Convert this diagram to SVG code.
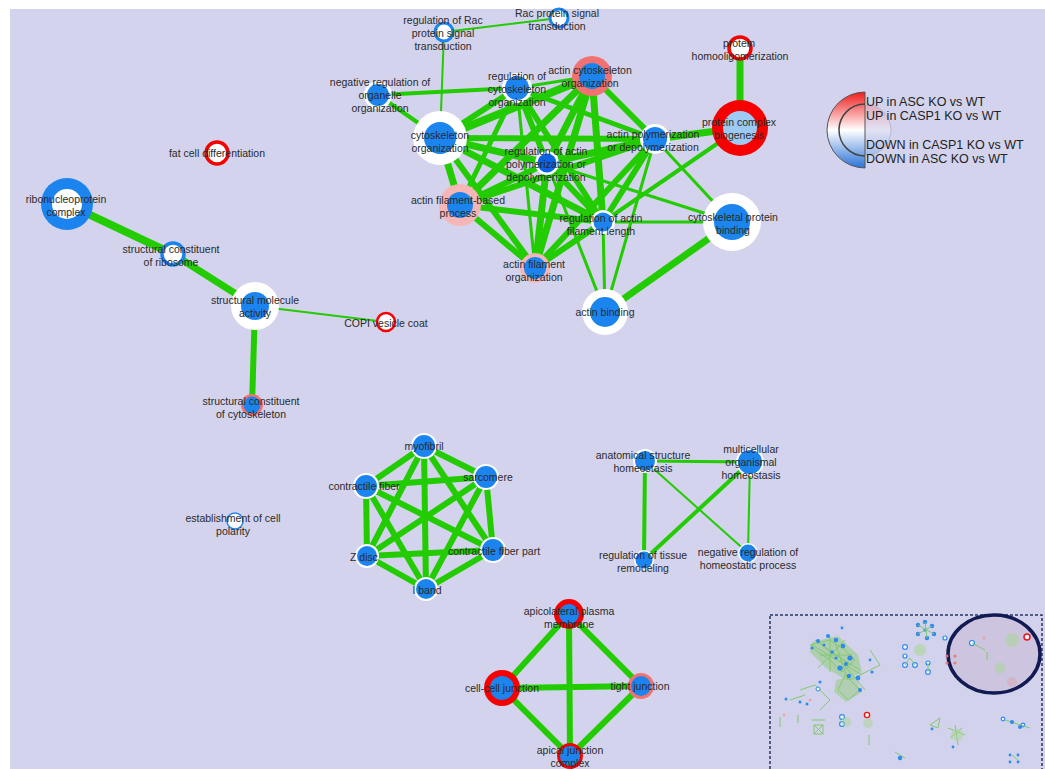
<svg xmlns="http://www.w3.org/2000/svg" width="1045" height="769" viewBox="0 0 1045 769">
  <defs>
    <style>
      .bg { fill: #d3d3ed; }
      .e { stroke: #22cc00; stroke-linecap: butt; fill: none; }
      .w2 { stroke-width: 2; }
      .w3 { stroke-width: 3; }
      .w4 { stroke-width: 4; }
      .w5 { stroke-width: 5; }
      .w6 { stroke-width: 6; }
      .w7 { stroke-width: 7; }
      .w8 { stroke-width: 8; }
      .lbl { font-family: "Liberation Sans", Arial, sans-serif; font-size: 10.5px; fill: #2a2a2a; text-anchor: middle; }
      .leg { font-family: "Liberation Sans", Arial, sans-serif; font-size: 12.5px; fill: #222; }
      .white { fill: #ffffff; }
      .blue { fill: #1c84ee; }
      .dblue { fill: #0b62e4; }
      .lblue { fill: #9ccaf4; }
      .red { fill: #f60000; }
      .salmon { fill: #f27272; }
      .pink { fill: #f6b6b6; }
      .mini-e { stroke: #7cc866; stroke-width: 1; fill: none; }
    </style>
    <linearGradient id="legGrad" x1="0" y1="0" x2="0" y2="1">
      <stop offset="0" stop-color="#f01c1c"/>
      <stop offset="0.5" stop-color="#ffffff"/>
      <stop offset="1" stop-color="#2a72d6"/>
    </linearGradient>
    <linearGradient id="legGradIn" x1="0" y1="0" x2="0" y2="1">
      <stop offset="0" stop-color="#f25a5a"/>
      <stop offset="0.5" stop-color="#ffffff"/>
      <stop offset="1" stop-color="#4a86da"/>
    </linearGradient>
  </defs>

  <!-- canvas -->
  <rect x="0" y="0" width="1045" height="769" fill="#ffffff"/>
  <rect class="bg" x="10" y="9" width="1035" height="760"/>

  <!-- connectors -->
  <g id="edges">
    <!-- cytoskeleton cluster -->
    <line class="e w2" x1="444" y1="32" x2="559" y2="18"/>
    <line class="e w2" x1="444" y1="32" x2="440" y2="138"/>
    <line class="e w7" x1="740" y1="48" x2="740" y2="128"/>
    <line class="e w4" x1="378" y1="95" x2="517" y2="88"/>
    <line class="e w4" x1="378" y1="95" x2="440" y2="138"/>
    <line class="e w3" x1="517" y1="88" x2="592" y2="76"/>
    <line class="e w6" x1="440" y1="138" x2="517" y2="88"/>
    <line class="e w8" x1="440" y1="138" x2="592" y2="76"/>
    <line class="e w6" x1="440" y1="138" x2="655" y2="139"/>
    <line class="e w7" x1="440" y1="138" x2="547" y2="163"/>
    <line class="e w7" x1="440" y1="138" x2="460" y2="205"/>
    <line class="e w7" x1="440" y1="138" x2="603" y2="222"/>
    <line class="e w6" x1="440" y1="138" x2="535" y2="268"/>
    <line class="e w6" x1="592" y1="76" x2="655" y2="139"/>
    <line class="e w7" x1="592" y1="76" x2="547" y2="163"/>
    <line class="e w7" x1="592" y1="76" x2="460" y2="205"/>
    <line class="e w7" x1="592" y1="76" x2="603" y2="222"/>
    <line class="e w7" x1="592" y1="76" x2="535" y2="268"/>
    <line class="e w6" x1="517" y1="88" x2="547" y2="163"/>
    <line class="e w5" x1="517" y1="88" x2="655" y2="139"/>
    <line class="e w5" x1="517" y1="88" x2="460" y2="205"/>
    <line class="e w6" x1="517" y1="88" x2="603" y2="222"/>
    <line class="e w3" x1="517" y1="88" x2="535" y2="268"/>
    <line class="e w7" x1="655" y1="139" x2="547" y2="163"/>
    <line class="e w6" x1="655" y1="139" x2="460" y2="205"/>
    <line class="e w6" x1="655" y1="139" x2="603" y2="222"/>
    <line class="e w6" x1="655" y1="139" x2="535" y2="268"/>
    <line class="e w3" x1="655" y1="139" x2="605" y2="312"/>
    <line class="e w3" x1="655" y1="139" x2="732" y2="222"/>
    <line class="e w7" x1="655" y1="139" x2="740" y2="128"/>
    <line class="e w4" x1="740" y1="128" x2="603" y2="222"/>
    <line class="e w6" x1="547" y1="163" x2="460" y2="205"/>
    <line class="e w6" x1="547" y1="163" x2="603" y2="222"/>
    <line class="e w7" x1="547" y1="163" x2="535" y2="268"/>
    <line class="e w3" x1="547" y1="163" x2="605" y2="312"/>
    <line class="e w3" x1="547" y1="163" x2="732" y2="222"/>
    <line class="e w6" x1="460" y1="205" x2="603" y2="222"/>
    <line class="e w6" x1="460" y1="205" x2="535" y2="268"/>
    <line class="e w6" x1="603" y1="222" x2="535" y2="268"/>
    <line class="e w3" x1="603" y1="222" x2="605" y2="312"/>
    <line class="e w3" x1="603" y1="222" x2="732" y2="222"/>
    <line class="e w7" x1="605" y1="312" x2="732" y2="222"/>

    <!-- structural molecule cluster -->
    <line class="e w8" x1="67" y1="204" x2="173" y2="254"/>
    <line class="e w7" x1="173" y1="254" x2="255" y2="306"/>
    <line class="e w2" x1="255" y1="306" x2="386" y2="322"/>
    <line class="e w6" x1="255" y1="306" x2="252" y2="405"/>

    <!-- myofibril cluster -->
    <line class="e w6" x1="424" y1="446" x2="486" y2="477"/>
    <line class="e w6" x1="424" y1="446" x2="366" y2="486"/>
    <line class="e w6" x1="424" y1="446" x2="367" y2="556"/>
    <line class="e w6" x1="424" y1="446" x2="493" y2="550"/>
    <line class="e w6" x1="424" y1="446" x2="426" y2="589"/>
    <line class="e w6" x1="486" y1="477" x2="366" y2="486"/>
    <line class="e w6" x1="486" y1="477" x2="367" y2="556"/>
    <line class="e w6" x1="486" y1="477" x2="493" y2="550"/>
    <line class="e w6" x1="486" y1="477" x2="426" y2="589"/>
    <line class="e w6" x1="366" y1="486" x2="367" y2="556"/>
    <line class="e w6" x1="366" y1="486" x2="493" y2="550"/>
    <line class="e w6" x1="366" y1="486" x2="426" y2="589"/>
    <line class="e w6" x1="367" y1="556" x2="493" y2="550"/>
    <line class="e w6" x1="367" y1="556" x2="426" y2="589"/>
    <line class="e w6" x1="493" y1="550" x2="426" y2="589"/>

    <!-- homeostasis cluster -->
    <line class="e w3" x1="645" y1="461" x2="750" y2="462"/>
    <line class="e w4" x1="645" y1="461" x2="644" y2="560"/>
    <line class="e w4" x1="750" y1="462" x2="644" y2="560"/>
    <line class="e w2" x1="645" y1="461" x2="748" y2="553"/>
    <line class="e w2" x1="750" y1="462" x2="748" y2="553"/>

    <!-- junction cluster -->
    <line class="e w6" x1="569" y1="614" x2="502" y2="688"/>
    <line class="e w6" x1="569" y1="614" x2="641" y2="686"/>
    <line class="e w6" x1="569" y1="614" x2="570" y2="756"/>
    <line class="e w6" x1="502" y1="688" x2="641" y2="686"/>
    <line class="e w6" x1="502" y1="688" x2="570" y2="756"/>
    <line class="e w6" x1="641" y1="686" x2="570" y2="756"/>
  </g>

  <!-- cytoskeleton cluster nodes -->
  <g id="n-reg-rac">
    <circle cx="444" cy="32" r="9" fill="#ffffff" stroke="#1c84ee" stroke-width="3"/>
    <text class="lbl" x="443" y="24">regulation of Rac</text>
    <text class="lbl" x="443" y="37">protein signal</text>
    <text class="lbl" x="443" y="50">transduction</text>
  </g>
  <g id="n-rac">
    <circle cx="559" cy="18" r="9" fill="#ffffff" stroke="#1c84ee" stroke-width="3"/>
    <text class="lbl" x="557" y="17">Rac protein signal</text>
    <text class="lbl" x="557" y="30">transduction</text>
  </g>
  <g id="n-prot-homo">
    <circle cx="740" cy="48" r="11" fill="#ffffff" stroke="#f60000" stroke-width="3.5"/>
    <text class="lbl" x="739" y="47">protein</text>
    <text class="lbl" x="740" y="60">homooligomerization</text>
  </g>
  <g id="n-prot-complex">
    <circle class="red" cx="740" cy="128" r="28"/>
    <circle class="lblue" cx="740" cy="128" r="17"/>
    <text class="lbl" x="739" y="126">protein complex</text>
    <text class="lbl" x="739" y="139">biogenesis</text>
  </g>
  <g id="n-neg-reg-organelle">
    <circle class="white" cx="378" cy="95" r="14"/>
    <circle class="blue" cx="378" cy="95" r="11"/>
    <text class="lbl" x="380" y="86">negative regulation of</text>
    <text class="lbl" x="380" y="99">organelle</text>
    <text class="lbl" x="380" y="112">organization</text>
  </g>
  <g id="n-reg-cyto">
    <circle class="white" cx="517" cy="88" r="15"/>
    <circle class="blue" cx="517" cy="88" r="12"/>
    <text class="lbl" x="517" y="80">regulation of</text>
    <text class="lbl" x="517" y="93">cytoskeleton</text>
    <text class="lbl" x="517" y="106">organization</text>
  </g>
  <g id="n-actin-cyto">
    <circle class="salmon" cx="592" cy="76" r="20"/>
    <circle class="blue" cx="592" cy="76" r="13"/>
    <text class="lbl" x="590" y="74">actin cytoskeleton</text>
    <text class="lbl" x="590" y="87">organization</text>
  </g>
  <g id="n-cyto-org">
    <circle class="white" cx="440" cy="138" r="27"/>
    <circle class="blue" cx="440" cy="138" r="16"/>
    <text class="lbl" x="440" y="139">cytoskeleton</text>
    <text class="lbl" x="440" y="152">organization</text>
  </g>
  <g id="n-actin-poly">
    <circle class="white" cx="655" cy="139" r="15"/>
    <circle class="blue" cx="655" cy="139" r="12"/>
    <text class="lbl" x="653" y="138">actin polymerization</text>
    <text class="lbl" x="653" y="151">or depolymerization</text>
  </g>
  <g id="n-reg-actin-poly">
    <circle class="white" cx="547" cy="163" r="12"/>
    <circle class="dblue" cx="547" cy="163" r="9.5"/>
    <text class="lbl" x="546" y="155">regulation of actin</text>
    <text class="lbl" x="546" y="168">polymerization or</text>
    <text class="lbl" x="546" y="181">depolymerization</text>
  </g>
  <g id="n-actin-fil-based">
    <circle class="pink" cx="460" cy="205" r="21"/>
    <circle class="blue" cx="460" cy="205" r="13"/>
    <text class="lbl" x="458" y="204">actin filament-based</text>
    <text class="lbl" x="458" y="217">process</text>
  </g>
  <g id="n-reg-actin-fil-len">
    <circle class="white" cx="603" cy="222" r="12"/>
    <circle class="blue" cx="603" cy="222" r="9.5"/>
    <text class="lbl" x="601" y="222">regulation of actin</text>
    <text class="lbl" x="601" y="235">filament length</text>
  </g>
  <g id="n-cytosk-prot-bind">
    <circle class="white" cx="732" cy="222" r="29"/>
    <circle class="blue" cx="732" cy="222" r="18"/>
    <text class="lbl" x="733" y="221">cytoskeletal protein</text>
    <text class="lbl" x="733" y="234">binding</text>
  </g>
  <g id="n-actin-fil-org">
    <circle class="pink" cx="535" cy="268" r="15"/>
    <circle class="blue" cx="535" cy="268" r="11"/>
    <text class="lbl" x="534" y="268">actin filament</text>
    <text class="lbl" x="534" y="281">organization</text>
  </g>
  <g id="n-actin-bind">
    <circle class="white" cx="605" cy="312" r="23"/>
    <circle class="blue" cx="605" cy="312" r="15"/>
    <text class="lbl" x="605" y="316">actin binding</text>
  </g>

  <!-- structural molecule cluster nodes -->
  <g id="n-fat-cell">
    <circle cx="217" cy="153" r="11" fill="#ffffff" stroke="#f60000" stroke-width="3.5"/>
    <text class="lbl" x="217" y="157">fat cell differentiation</text>
  </g>
  <g id="n-ribonucleo">
    <circle class="blue" cx="67" cy="204" r="26"/>
    <circle class="white" cx="67" cy="204" r="15"/>
    <text class="lbl" x="66" y="203">ribonucleoprotein</text>
    <text class="lbl" x="66" y="216">complex</text>
  </g>
  <g id="n-struct-ribosome">
    <circle cx="173" cy="254" r="11" fill="#ffffff" stroke="#1c84ee" stroke-width="3.5"/>
    <text class="lbl" x="171" y="253">structural constituent</text>
    <text class="lbl" x="171" y="266">of ribosome</text>
  </g>
  <g id="n-struct-mol">
    <circle class="white" cx="255" cy="306" r="24"/>
    <circle class="blue" cx="255" cy="306" r="14"/>
    <text class="lbl" x="255" y="304">structural molecule</text>
    <text class="lbl" x="255" y="317">activity</text>
  </g>
  <g id="n-copi">
    <circle cx="386" cy="322" r="9" fill="#ffffff" stroke="#f60000" stroke-width="2.5"/>
    <text class="lbl" x="386" y="327">COPI vesicle coat</text>
  </g>
  <g id="n-struct-cytoskel">
    <circle class="salmon" cx="252" cy="405" r="11"/>
    <circle class="blue" cx="252" cy="405" r="8.5"/>
    <text class="lbl" x="251" y="405">structural constituent</text>
    <text class="lbl" x="251" y="418">of cytoskeleton</text>
  </g>

  <!-- myofibril cluster nodes -->
  <g id="n-myofibril">
    <circle class="white" cx="424" cy="446" r="13"/>
    <circle class="blue" cx="424" cy="446" r="11"/>
    <text class="lbl" x="424" y="450">myofibril</text>
  </g>
  <g id="n-sarcomere">
    <circle class="white" cx="486" cy="477" r="13"/>
    <circle class="blue" cx="486" cy="477" r="11"/>
    <text class="lbl" x="488" y="481">sarcomere</text>
  </g>
  <g id="n-contractile-fiber">
    <circle class="white" cx="366" cy="486" r="13"/>
    <circle class="blue" cx="366" cy="486" r="11"/>
    <text class="lbl" x="364" y="490">contractile fiber</text>
  </g>
  <g id="n-z-disc">
    <circle class="white" cx="367" cy="556" r="12"/>
    <circle class="blue" cx="367" cy="556" r="10"/>
    <text class="lbl" x="364" y="561">Z disc</text>
  </g>
  <g id="n-contractile-fiber-part">
    <circle class="white" cx="493" cy="550" r="13"/>
    <circle class="blue" cx="493" cy="550" r="11"/>
    <text class="lbl" x="494" y="555">contractile fiber part</text>
  </g>
  <g id="n-i-band">
    <circle class="white" cx="426" cy="589" r="12"/>
    <circle class="blue" cx="426" cy="589" r="10"/>
    <text class="lbl" x="427" y="594">I band</text>
  </g>

  <g id="n-cell-polarity">
    <circle cx="235" cy="521" r="8" fill="#ffffff" stroke="#1c84ee" stroke-width="1.5"/>
    <text class="lbl" x="233" y="522">establishment of cell</text>
    <text class="lbl" x="233" y="535">polarity</text>
  </g>

  <!-- homeostasis cluster nodes -->
  <g id="n-anat-homeo">
    <circle class="white" cx="645" cy="461" r="12"/>
    <circle class="blue" cx="645" cy="461" r="10"/>
    <text class="lbl" x="643" y="459">anatomical structure</text>
    <text class="lbl" x="643" y="472">homeostasis</text>
  </g>
  <g id="n-multi-homeo">
    <circle class="white" cx="750" cy="462" r="14"/>
    <circle class="blue" cx="750" cy="462" r="12"/>
    <text class="lbl" x="751" y="453">multicellular</text>
    <text class="lbl" x="751" y="466">organismal</text>
    <text class="lbl" x="751" y="479">homeostasis</text>
  </g>
  <g id="n-tissue-remodel">
    <circle class="white" cx="644" cy="560" r="10"/>
    <circle class="blue" cx="644" cy="560" r="8.5"/>
    <text class="lbl" x="643" y="559">regulation of tissue</text>
    <text class="lbl" x="643" y="572">remodeling</text>
  </g>
  <g id="n-neg-homeo">
    <circle class="white" cx="748" cy="553" r="10"/>
    <circle class="blue" cx="748" cy="553" r="8.5"/>
    <text class="lbl" x="748" y="556">negative regulation of</text>
    <text class="lbl" x="748" y="569">homeostatic process</text>
  </g>

  <!-- junction cluster nodes -->
  <g id="n-apicolateral">
    <circle class="red" cx="569" cy="614" r="15"/>
    <circle class="blue" cx="569" cy="614" r="10"/>
    <text class="lbl" x="569" y="615">apicolateral plasma</text>
    <text class="lbl" x="569" y="628">membrane</text>
  </g>
  <g id="n-cell-cell">
    <circle class="red" cx="502" cy="688" r="18"/>
    <circle class="blue" cx="502" cy="688" r="12"/>
    <text class="lbl" x="502" y="692">cell-cell junction</text>
  </g>
  <g id="n-tight">
    <circle class="salmon" cx="641" cy="686" r="13"/>
    <circle class="blue" cx="641" cy="686" r="10"/>
    <text class="lbl" x="640" y="690">tight junction</text>
  </g>
  <g id="n-apical-complex">
    <circle class="red" cx="570" cy="756" r="13"/>
    <circle class="blue" cx="570" cy="756" r="10"/>
    <text class="lbl" x="570" y="754">apical junction</text>
    <text class="lbl" x="570" y="767">complex</text>
  </g>

  <!-- colour key -->
  <g id="legend">
    <circle cx="865" cy="130" r="26" fill="url(#legGradIn)" opacity="0.35"/>
    <path d="M865,92 A38,38 0 0 0 865,168 Z" fill="url(#legGrad)" stroke="#555" stroke-width="1"/>
    <path d="M865,104 A26,26 0 0 0 865,156" fill="none" stroke="#444" stroke-width="1.5"/>
    <path d="M865,104 A26,26 0 0 1 865,156" fill="none" stroke="#b8b8d0" stroke-width="1"/>
    <text class="leg" x="866" y="106">UP in ASC KO vs WT</text>
    <text class="leg" x="866" y="120">UP in CASP1 KO vs WT</text>
    <text class="leg" x="866" y="149">DOWN in CASP1 KO vs WT</text>
    <text class="leg" x="866" y="163">DOWN in ASC KO vs WT</text>
  </g>

  <!-- overview panel -->
  <g id="overview">
    <rect x="770" y="615" width="272" height="160" fill="#d2d2ec" stroke="#2a3468" stroke-width="1.5" stroke-dasharray="3,2"/>
    <ellipse cx="994" cy="654" rx="46" ry="39" fill="#cdc5e0" stroke="#121a52" stroke-width="3.5"/>
    <g opacity="0.9">
      <!-- large cluster -->
      <path d="M812,642 L838,636 L858,655 L862,672 L846,680 L826,668 L810,652 Z" fill="#84cc62" opacity="0.5"/>
      <path d="M836,680 L854,676 L862,692 L846,702 L834,692 Z" fill="#84cc62" opacity="0.45"/>
      <path class="mini-e" d="M810,645 L830,640 L845,650 L855,660 L842,672 L830,660 L818,652 Z M815,640 L850,665 M825,648 L860,670 M835,642 L848,680 M820,655 L852,655 M845,675 L860,690 L848,700 L838,690 Z M840,660 L865,690 M800,690 L815,685 L830,700 L820,710 M790,700 L805,695 M850,680 L880,665 L870,650 M812,645 L862,675 M830,636 L830,672 M845,640 L818,668" stroke-width="1.2"/>
      <g fill="#1c84ee">
        <circle cx="818" cy="641" r="2"/><circle cx="828" cy="636" r="2"/><circle cx="836" cy="640" r="2.3"/>
        <circle cx="843" cy="646" r="2.3"/><circle cx="850" cy="658" r="2.6"/><circle cx="840" cy="668" r="2.6"/>
        <circle cx="849" cy="676" r="2.2"/><circle cx="858" cy="678" r="2.4"/><circle cx="860" cy="690" r="2"/>
        <circle cx="812" cy="648" r="1.6"/><circle cx="832" cy="652" r="1.8"/><circle cx="807" cy="704" r="1.5"/>
        <circle cx="786" cy="699" r="1.5"/><circle cx="800" cy="702" r="1.5"/><circle cx="820" cy="682" r="1.5"/>
        <circle cx="872" cy="672" r="1.6"/><circle cx="870" cy="660" r="1.4"/><circle cx="842" cy="628" r="1.4"/>
        <circle cx="824" cy="645" r="1.6"/><circle cx="846" cy="664" r="2"/><circle cx="836" cy="658" r="1.6"/>
      </g>
      <circle cx="818" cy="689" r="2" fill="#fff" stroke="#1c84ee" stroke-width="1"/>
      <circle cx="810" cy="700" r="1.5" fill="#f4a0a0"/>
      <circle cx="784" cy="715" r="1.4" fill="#f4a0a0"/>
      <path class="mini-e" d="M780,717 L780,727 M798,715 L798,723 M812,720 L825,720"/>
      <!-- small clusters -->
      <g fill="#1c84ee">
        <circle cx="918" cy="625" r="2.2"/><circle cx="925" cy="622" r="2.2"/><circle cx="932" cy="626" r="2.2"/>
        <circle cx="934" cy="634" r="2.2"/><circle cx="927" cy="638" r="2.2"/><circle cx="918" cy="634" r="2.2"/>
        <circle cx="925" cy="630" r="1.8"/>
      </g>
      <path class="mini-e" d="M918,625 L934,634 M925,622 L927,638 M932,626 L918,634"/>
      <circle cx="920" cy="650" r="6" fill="#a6d88e" opacity="0.6"/>
      <g fill="#fff" stroke="#1c84ee" stroke-width="1.2">
        <circle cx="905" cy="647" r="2.4"/><circle cx="905" cy="656" r="2"/><circle cx="905" cy="665" r="2.4"/>
        <circle cx="915" cy="665" r="2.4"/><circle cx="928" cy="663" r="2"/><circle cx="928" cy="672" r="2.4"/>
        <circle cx="945" cy="638" r="2"/>
      </g>
      <path class="mini-e" d="M905,665 L910,658 L915,665 M928,663 L928,672"/>
      <g fill="#f27272">
        <circle cx="947" cy="656" r="1.6"/><circle cx="955" cy="656" r="1.6"/><circle cx="947" cy="663" r="1.6"/><circle cx="955" cy="663" r="1.6"/>
      </g>
      <!-- inside ellipse -->
      <circle cx="1012" cy="640" r="7" fill="#a6d88e" opacity="0.55"/>
      <circle cx="1027" cy="637" r="3" fill="#fff" stroke="#f60000" stroke-width="1.5"/>
      <circle cx="972" cy="643" r="2.5" fill="#fff" stroke="#1c84ee" stroke-width="1.2"/>
      <path class="mini-e" d="M972,643 L985,650 M987,652 L987,660"/>
      <circle cx="1000" cy="668" r="5.5" fill="#a6d88e" opacity="0.55"/>
      <circle cx="1012" cy="682" r="5" fill="#d8a8b8" opacity="0.6"/>
      <circle cx="984" cy="638" r="1.5" fill="#f4a0a0"/>
      <!-- lower part -->
      <g fill="#fff" stroke="#1c84ee" stroke-width="1.2">
        <circle cx="842" cy="717" r="2.4"/><circle cx="842" cy="724" r="2.4"/>
        <circle cx="1003" cy="719" r="1.8"/><circle cx="1023" cy="725" r="1.8"/>
      </g>
      <circle cx="846" cy="722" r="5" fill="#a6d88e" opacity="0.5"/>
      <circle cx="867" cy="715" r="2.6" fill="#fff" stroke="#f60000" stroke-width="1.4"/>
      <circle cx="868" cy="723" r="5" fill="#a6d88e" opacity="0.5"/>
      <rect x="814" y="725" width="9" height="9" fill="none" stroke="#7cc866" stroke-width="1"/>
      <path class="mini-e" d="M814,725 L823,734 M823,725 L814,734 M869,735 L869,745 M930,725 L940,718 L938,728 Z"/>
      <path class="mini-e" d="M948,728 L965,735 M950,738 L962,728 M955,725 L958,745 M1005,720 L1030,728 M895,752 L905,758 M1012,755 L1020,762"/>
      <circle cx="957" cy="735" r="6" fill="#a6d88e" opacity="0.5"/>
      <g fill="#1c84ee">
        <circle cx="1012" cy="722" r="2"/><circle cx="1020" cy="727" r="2"/><circle cx="900" cy="758" r="2.2"/>
        <circle cx="1010" cy="755" r="1.4"/><circle cx="1018" cy="755" r="1.4"/><circle cx="1010" cy="762" r="1.4"/><circle cx="1018" cy="762" r="1.4"/>
        <circle cx="932" cy="729" r="1.4"/><circle cx="953" cy="747" r="1.4"/>
      </g>
    </g>
  </g>
</svg>
